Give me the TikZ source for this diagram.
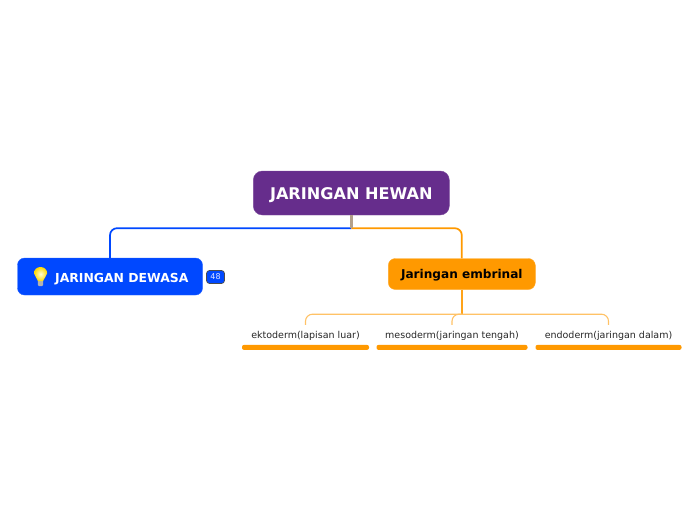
\documentclass[tikz,border=0pt]{standalone}
\usepackage{fontspec}
\setmainfont{DejaVu Sans}
\usepackage{tikz}
\usetikzlibrary{positioning}
\definecolor{rootpurple}{HTML}{662D8C}
\definecolor{mainblue}{HTML}{0048FF}
\definecolor{mainorange}{HTML}{FF9900}
\definecolor{lightorange}{HTML}{FFC266}
\definecolor{stubgray}{HTML}{B3A08A}
\tikzset{
  topic/.style={rounded corners=7pt, inner sep=0pt, text=white, font=\bfseries},
  leaf/.style={inner sep=0pt, minimum height=22pt, font=\fontsize{9.5}{11}\selectfont, text=black!85},
  bar/.style={fill=mainorange, rounded corners=2pt, inner sep=0pt, minimum height=5pt},
  link/.style={line width=1.7pt, rounded corners=7pt},
  sublink/.style={line width=1.1pt, lightorange, rounded corners=7pt}
}
\begin{document}
\begin{tikzpicture}[x=1pt, y=-1pt]
\path[use as bounding box] (0,0) rectangle (696,520);
\node[topic, fill=rootpurple, draw=rootpurple!85!white, line width=0.4pt, minimum width=196pt, minimum height=44pt, rounded corners=9pt, text height=16pt, font=\bfseries\fontsize{16.1}{18}\selectfont] (root) at (351.3,193) {JARINGAN HEWAN};
\node[topic, fill=mainblue, draw=mainblue!85!white, line width=0.4pt, minimum width=185pt, minimum height=37pt] (dewasa) at (110,276.5) {};
\node[inner sep=0pt, text=white, font=\bfseries\fontsize{12.4}{14}\selectfont, anchor=west] (dewasatext) at (55,279) {JARINGAN DEWASA};
\node[fill=mainblue, draw=black!70, line width=0.7pt, rounded corners=3pt, inner sep=0pt, minimum width=18pt, minimum height=13pt, text=white!90!blue, font=\fontsize{8}{9}\selectfont] (count) at (215.5,277) {48};
\node[topic, fill=mainorange, draw=mainorange!85!white, line width=0.4pt, minimum width=147pt, minimum height=31pt, text=black, text height=11.5pt, font=\bfseries\fontsize{12.1}{14}\selectfont] (embrinal) at (461.8,274) {Jaringan embrinal};
\node[leaf] (ekto) at (305.5,336) {ektoderm(lapisan luar)};
\node[leaf] (meso) at (452,336) {mesoderm(jaringan tengah)};
\node[leaf] (endo) at (608.5,336) {endoderm(jaringan dalam)};
\node[bar, minimum width=127pt, below=-2.5pt of ekto] (ektobar) {};
\node[bar, minimum width=151pt, below=-2.5pt of meso] (mesobar) {};
\node[bar, minimum width=146pt, below=-2.5pt of endo] (endobar) {};
% links from the root
\draw[link, mainblue] (root.south) ++(0,13) coordinate (fork) -| (dewasa.north);
\draw[link, mainorange] (fork) -| (embrinal.north);
\draw[line width=2.6pt, stubgray] (root.south) -- (fork);
% links to the leaves
\draw[line width=1.8pt, mainorange!90!white] (embrinal.south) -- ++(0,24.5) coordinate (split);
\draw[sublink] (split) -| (ekto.north);
\draw[sublink] (split) -| (meso.north);
\draw[sublink] (split) -| (endo.north);
% bulb icon
\fill[black!30, rounded corners=1pt] (37.8,279) rectangle (43.2,286);
\shade[inner color=yellow!15, outer color=yellow!70!orange] (38,281) .. controls (37.5,277.5) and (34,276.5) .. (34,273.3) .. controls (34,269.5) and (37,267) .. (40.5,267) .. controls (44,267) and (47.2,269.5) .. (47.2,273.3) .. controls (47.2,276.5) and (43.5,277.5) .. (43,281) -- cycle;
\end{tikzpicture}
\end{document}
